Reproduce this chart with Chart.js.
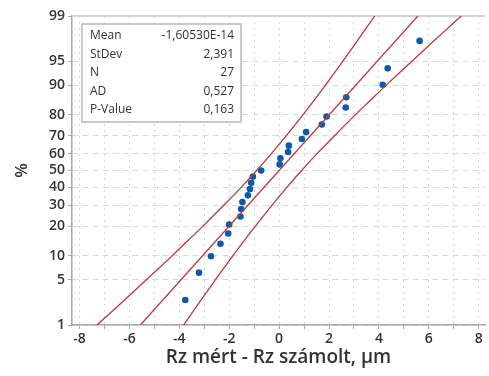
<!DOCTYPE html>
<html>
<head>
<meta charset="utf-8">
<script src="https://cdn.jsdelivr.net/npm/chart.js@4.4.1/dist/chart.umd.min.js"></script>
<style>
  html, body { margin: 0; padding: 0; background: #fff; }
  #wrap { width: 489px; height: 376px; }
</style>
</head>
<body>
<div id="wrap"><canvas id="chart" width="489" height="376"></canvas></div>
<script>
// observations (sorted) and their plotting positions in percent
const residuals = [-3.76, -3.21, -2.73, -2.35, -2.04, -2.00, -1.55, -1.52, -1.47, -1.25,
  -1.17, -1.12, -1.05, -0.72, 0.02, 0.05, 0.36, 0.39, 0.91, 1.08,
  1.71, 1.90, 2.67, 2.69, 4.15, 4.35, 5.63];
const percents = [2.56, 6.20, 9.85, 13.50, 17.15, 20.80, 24.45, 28.10, 31.75, 35.40,
  39.05, 42.70, 46.35, 50.00, 53.65, 57.30, 60.95, 64.60, 68.25, 71.90,
  75.55, 79.20, 82.85, 86.50, 90.15, 93.80, 97.45];

// fitted line and confidence band, read at these percent levels
const bandLevels = [1, 2, 3, 5, 10, 15, 20, 30, 40, 50, 60, 70, 80, 85, 90, 95, 97, 98, 99];
const bandLeft = [-7.30, -6.50, -6.00, -5.32, -4.28, -3.60, -3.06, -2.22, -1.52, -0.90,
  -0.31, 0.29, 0.96, 1.36, 1.85, 2.55, 3.00, 3.32, 3.83];
const bandRight = [-3.83, -3.32, -3.00, -2.55, -1.85, -1.36, -0.96, -0.29, 0.31, 0.90,
  1.52, 2.22, 3.06, 3.60, 4.28, 5.32, 6.00, 6.50, 7.30];
const fitLevels = [1, 99];
const fitValues = [-5.56, 5.56];

const yTickLabels = [1, 5, 10, 20, 30, 40, 50, 60, 70, 80, 90, 95, 99];
const xTickValues = [-8, -7, -6, -5, -4, -3, -2, -1, 0, 1, 2, 3, 4, 5, 6, 7, 8];

const statNames = ['Mean', 'StDev', 'N', 'AD', 'P-Value'];
const statValues = ['-1,60530E-14', '2,391', '27', '0,527', '0,163'];

// inverse normal cdf (Acklam)
function probit(p) {
  const a = [-39.69683028665376, 220.9460984245205, -275.9285104469687, 138.3577518672690, -30.66479806614716, 2.506628277459239];
  const b = [-54.47609879822406, 161.5858368580409, -155.6989798598866, 66.80131188771972, -13.28068155288572];
  const c = [-0.007784894002430293, -0.3223964580411365, -2.400758277161838, -2.549732539343734, 4.374664141464968, 2.938163982698783];
  const d = [0.007784695709041462, 0.3224671290700398, 2.445134137142996, 3.754408661907416];
  const pl = 0.02425;
  let q, r;
  if (p < pl) {
    q = Math.sqrt(-2 * Math.log(p));
    return (((((c[0]*q+c[1])*q+c[2])*q+c[3])*q+c[4])*q+c[5]) / ((((d[0]*q+d[1])*q+d[2])*q+d[3])*q+1);
  }
  if (p > 1 - pl) {
    q = Math.sqrt(-2 * Math.log(1 - p));
    return -(((((c[0]*q+c[1])*q+c[2])*q+c[3])*q+c[4])*q+c[5]) / ((((d[0]*q+d[1])*q+d[2])*q+d[3])*q+1);
  }
  q = p - 0.5; r = q * q;
  return (((((a[0]*r+a[1])*r+a[2])*r+a[3])*r+a[4])*r+a[5])*q / (((((b[0]*r+b[1])*r+b[2])*r+b[3])*r+b[4])*r+1);
}

const toPts = (xs, ps) => xs.map((x, i) => ({ x: x, y: probit(ps[i] / 100) }));

const RED = '#b8393b';
const BLUE = '#0f5aa6';
const TEXT = '#333333';
const FONT = "'Open Sans', 'DejaVu Sans', sans-serif";

const frame = {
  id: 'frame',
  beforeDatasetsDraw(chart) {
    const { ctx, chartArea: a } = chart;
    ctx.save();
    ctx.strokeStyle = '#d4d4d4';
    ctx.lineWidth = 2;
    ctx.beginPath();
    ctx.moveTo(a.left, a.top);
    ctx.lineTo(a.right, a.top);
    ctx.stroke();
    ctx.restore();
  },
  afterDraw(chart) {
    const ctx = chart.ctx;
    ctx.save();
    ctx.fillStyle = '#fff';
    ctx.fillRect(82, 24, 159, 98);
    ctx.strokeStyle = '#b8b8b8';
    ctx.lineWidth = 1.5;
    ctx.strokeRect(82, 24, 159, 98);
    ctx.font = '12px ' + FONT;
    ctx.fillStyle = TEXT;
    ctx.textBaseline = 'middle';
    statNames.forEach((name, i) => {
      const y = 36 + i * 18.5;
      ctx.textAlign = 'left';
      ctx.fillText(name, 90, y);
      ctx.textAlign = 'right';
      ctx.fillText(statValues[i], 234, y);
    });
    ctx.restore();
  }
};

const lineStyle = { type: 'scatter', showLine: true, borderColor: RED, borderWidth: 1.3,
  pointRadius: 0, tension: 0.3, fill: false };

new Chart(document.getElementById('chart'), {
  type: 'scatter',
  data: {
    datasets: [
      Object.assign({ data: toPts(bandLeft, bandLevels) }, lineStyle),
      Object.assign({ data: toPts(fitValues, fitLevels) }, lineStyle, { tension: 0 }),
      Object.assign({ data: toPts(bandRight, bandLevels) }, lineStyle),
      { data: toPts(residuals, percents), pointRadius: 3.3, pointBackgroundColor: BLUE,
        pointBorderWidth: 0, borderColor: BLUE }
    ]
  },
  options: {
    responsive: false,
    animation: false,
    layout: { padding: { top: 16, right: 0, left: 0, bottom: 0 } },
    plugins: { legend: { display: false }, tooltip: { enabled: false } },
    scales: {
      x: {
        type: 'linear',
        min: -8.3,
        max: 8.25,
        afterBuildTicks: s => { s.ticks = xTickValues.map(v => ({ value: v })); },
        afterFit: s => { s.height = 51; },
        border: { color: '#a8a8a8', width: 1.5, dash: [2, 4] },
        grid: { color: '#d9d9d9', tickLength: 4,
          tickColor: '#a8a8a8', tickBorderDash: [] },
        ticks: {
          autoSkip: false, maxRotation: 0, padding: 2,
          color: TEXT, font: { family: FONT, size: 14, weight: '600' },
          callback: v => (v % 2 === 0 ? String(v) : '')
        },
        title: { display: true, text: 'Rz mért - Rz számolt, μm', color: TEXT,
          font: { family: FONT, size: 19, weight: '600' }, padding: { top: 0, bottom: 7 } }
      },
      y: {
        type: 'linear',
        min: probit(0.01),
        max: probit(0.99),
        afterBuildTicks: s => { s.ticks = yTickLabels.map(p => ({ value: probit(p / 100) })); },
        afterFit: s => { s.width = 72; },
        border: { color: '#a8a8a8', width: 1.5, dash: [6, 4] },
        grid: { color: '#d9d9d9', tickLength: 4,
          tickColor: '#a8a8a8', tickBorderDash: [] },
        ticks: {
          autoSkip: false, padding: 3,
          color: TEXT, font: { family: FONT, size: 14, weight: '600' },
          callback: (v, i) => String(yTickLabels[i])
        },
        title: { display: true, text: '%', color: TEXT,
          font: { family: FONT, size: 17, weight: '600' }, padding: { top: 12, bottom: 0 } }
      }
    }
  },
  plugins: [frame]
});
</script>
</body>
</html>
